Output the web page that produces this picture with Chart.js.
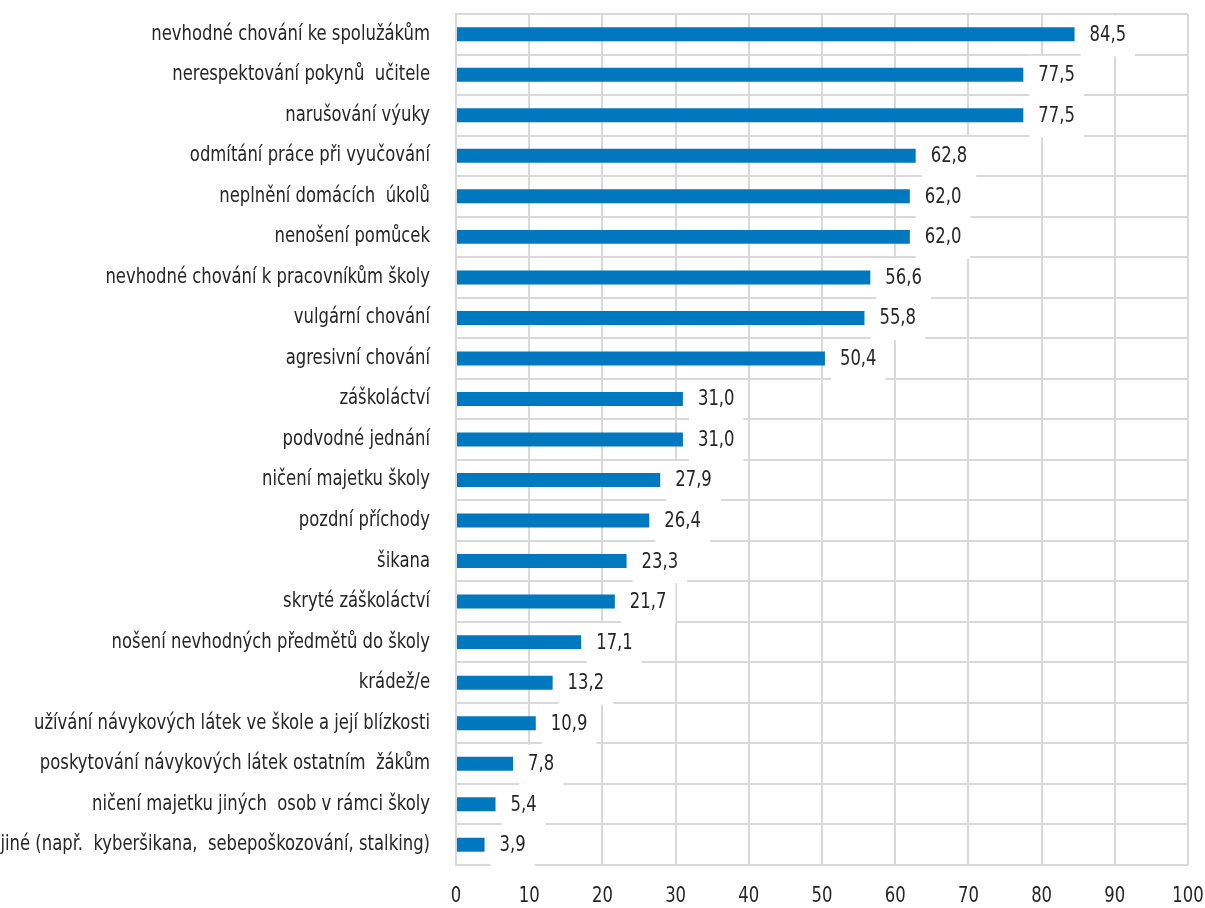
<!DOCTYPE html>
<html>
<head>
<meta charset="utf-8">
<script src="https://cdn.jsdelivr.net/npm/chart.js@4/dist/chart.umd.min.js"></script>
<style>
  html, body { margin: 0; padding: 0; background: #fff; }
  #wrap { width: 1205px; height: 908px; }
</style>
</head>
<body>
<div id="wrap"><canvas id="chart"></canvas></div>
<script>
( function () {
	'use strict';

	// categories and values, top to bottom
	var CATEGORIES = [
		'nevhodné chování ke spolužákům',
		'nerespektování pokynů  učitele',
		'narušování výuky',
		'odmítání práce při vyučování',
		'neplnění domácích  úkolů',
		'nenošení pomůcek',
		'nevhodné chování k pracovníkům školy',
		'vulgární chování',
		'agresivní chování',
		'záškoláctví',
		'podvodné jednání',
		'ničení majetku školy',
		'pozdní příchody',
		'šikana',
		'skryté záškoláctví',
		'nošení nevhodných předmětů do školy',
		'krádež/e',
		'užívání návykových látek ve škole a její blízkosti',
		'poskytování návykových látek ostatním  žákům',
		'ničení majetku jiných  osob v rámci školy',
		'jiné (např.  kyberšikana,  sebepoškozování, stalking)'
	];

	var VALUES = [
		84.5, 77.5, 77.5, 62.8, 62.0, 62.0, 56.6, 55.8, 50.4, 31.0, 31.0,
		27.9, 26.4, 23.3, 21.7, 17.1, 13.2, 10.9, 7.8, 5.4, 3.9
	];

	var X_MIN = 0;
	var X_MAX = 100;
	var X_STEP = 10;

	// pick a narrow font that is actually installed
	function hasFont( name ) {
		var c = document.createElement( 'canvas' ).getContext( '2d' );
		var s = 'nevhodné chování ke spolužákům 0123456789';
		c.font = '40px monospace';
		var a = c.measureText( s ).width;
		c.font = '40px "' + name + '", monospace';
		return c.measureText( s ).width !== a;
	}
	var CANDIDATES = [ 'Liberation Sans Narrow', 'DejaVu Sans Condensed', 'Roboto Condensed', 'Liberation Sans' ];
	var picked = CANDIDATES.filter( hasFont )[ 0 ] || 'Liberation Sans';
	var FONT_FAMILY = '"' + picked + '", sans-serif';

	var TEXT_COLOR = '#262626';
	var GRID_COLOR = '#d9d9d9';
	var BAR_COLOR = '#0078bf';
	var FONT_SIZE = 21;
	var SQUEEZE = 0.87;   // the source font is a condensed face

	Chart.defaults.font.family = FONT_FAMILY;
	Chart.defaults.font.size = FONT_SIZE;
	Chart.defaults.color = TEXT_COLOR;

	function fmt( v ) {
		return v.toFixed( 1 ).replace( '.', ',' );
	}

	function narrowText( ctx, txt, x, y, align ) {
		ctx.save();
		ctx.translate( x, y );
		ctx.scale( SQUEEZE, 1 );
		ctx.textAlign = align;
		ctx.fillText( txt, 0, 0 );
		ctx.restore();
	}

	// value labels with white box, like Excel data labels
	var valueLabels = {
		id: 'valueLabels',
		afterDatasetsDraw: function ( chart ) {
			var ctx = chart.ctx;
			var meta = chart.getDatasetMeta( 0 );
			ctx.save();
			ctx.font = FONT_SIZE + 'px ' + FONT_FAMILY;
			ctx.textBaseline = 'middle';
			meta.data.forEach( function ( bar, i ) {
				var txt = fmt( VALUES[ i ] );
				var w = ctx.measureText( txt ).width * SQUEEZE;
				var tx = bar.x + 15;
				ctx.fillStyle = '#fff';
				ctx.fillRect( tx - 9, bar.y - 19, w + 18, 41 );
				ctx.fillStyle = TEXT_COLOR;
				narrowText( ctx, txt, tx, bar.y + 1, 'left' );
			} );
			ctx.restore();
		}
	};

	// axis labels, drawn narrow
	var axisLabels = {
		id: 'axisLabels',
		afterDraw: function ( chart ) {
			var ctx = chart.ctx;
			var xs = chart.scales.x;
			var ys = chart.scales.y;
			var area = chart.chartArea;
			ctx.save();
			ctx.font = FONT_SIZE + 'px ' + FONT_FAMILY;
			ctx.textBaseline = 'middle';
			ctx.fillStyle = TEXT_COLOR;
			CATEGORIES.forEach( function ( c, i ) {
				narrowText( ctx, c, area.left - 26, ys.getPixelForValue( i ), 'right' );
			} );
			for ( var v = X_MIN; v <= X_MAX; v += X_STEP ) {
				narrowText( ctx, String( v ), xs.getPixelForValue( v ), area.bottom + 32, 'center' );
			}
			ctx.restore();
		}
	};

	new Chart( document.getElementById( 'chart' ), {
		type: 'bar',
		data: {
			labels: CATEGORIES,
			datasets: [ {
				data: VALUES,
				backgroundColor: BAR_COLOR,
				barPercentage: 0.345,
				categoryPercentage: 1
			} ]
		},
		options: {
			indexAxis: 'y',
			responsive: true,
			maintainAspectRatio: false,
			animation: false,
			layout: { padding: { top: 14, right: 17, left: 0, bottom: 0 } },
			plugins: {
				legend: { display: false },
				tooltip: { enabled: false }
			},
			scales: {
				x: {
					min: X_MIN,
					max: X_MAX,
					grid: { color: GRID_COLOR, lineWidth: 2, drawTicks: false },
					border: { display: false },
					ticks: { stepSize: X_STEP, display: false },
					afterFit: function ( s ) {
						s.height = 43;
						s.paddingLeft = 0;
						s.paddingRight = 0;
					}
				},
				y: {
					grid: { color: GRID_COLOR, lineWidth: 2, drawTicks: false, offset: true },
					border: { color: GRID_COLOR, width: 2 },
					ticks: { display: false, autoSkip: false },
					afterFit: function ( s ) {
						s.width = 456;
						s.paddingTop = 0;
						s.paddingBottom = 0;
					}
				}
			}
		},
		plugins: [ valueLabels, axisLabels ]
	} );
}() );
</script>
</body>
</html>
